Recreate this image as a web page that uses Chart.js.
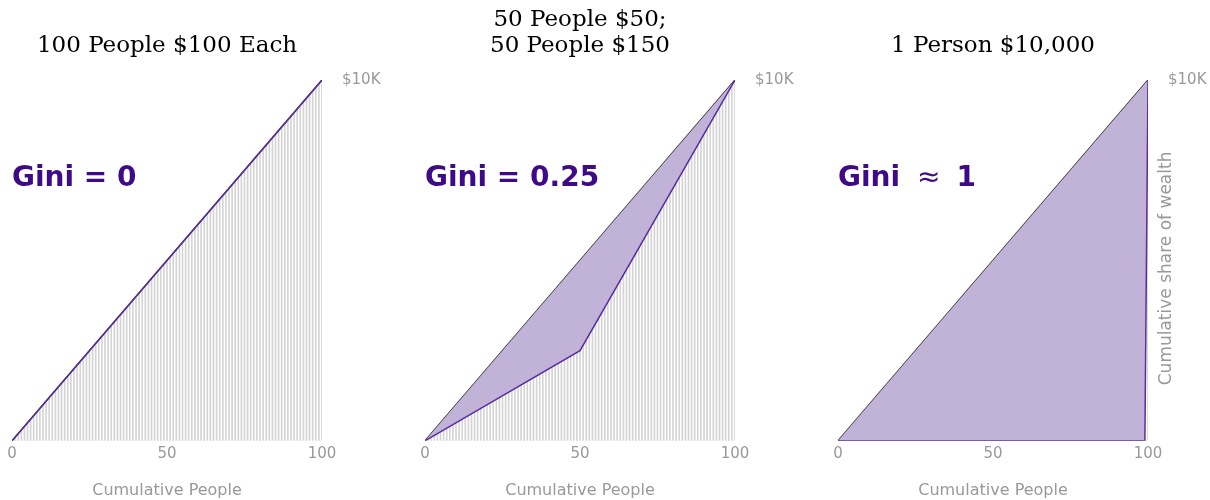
<!DOCTYPE html>
<html>
<head>
<meta charset="utf-8">
<script src="https://cdn.jsdelivr.net/npm/chart.js@4"></script>
<style>
  body { margin: 0; background: #fff; }
  .panel { position: absolute; top: 0; }
</style>
</head>
<body>
<div class="panel" style="left:0"><canvas id="c0" width="413" height="500"></canvas></div>
<div class="panel" style="left:413px"><canvas id="c1" width="413" height="500"></canvas></div>
<div class="panel" style="left:826px"><canvas id="c2" width="384" height="500"></canvas></div>
<script>
// data: each panel is a wealth distribution split into groups of people
const panelTitles = [["100 People $100 Each"], ["50 People $50;", "50 People $150"], ["1 Person $10,000"]];
const giniLabels = ["Gini = 0", "Gini = 0.25", "Gini \u2248 1"];
const groupCounts = [[100], [50, 50], [99, 1]];
const groupAmounts = [[100], [50, 150], [0, 10000]];
const peopleTicks = [0, 50, 100];
const totalPeople = 100;
const totalWealth = 10000;
const wealthTickLabel = "$10K";

const PURPLE_TEXT = "#3f0a87";
const LINE_PURPLE = "#5b2c9e";
const FILL_PURPLE = "rgba(193,178,216,1)";
const GRAY_TEXT = "#999999";

const panelText = {
  id: "panelText",
  afterDraw(chart, args, opts) {
    const { ctx, chartArea } = chart;
    ctx.save();
    // title
    ctx.fillStyle = "#000";
    ctx.font = "23px 'DejaVu Serif'";
    ctx.textAlign = "center";
    ctx.textBaseline = "middle";
    const cx = (chartArea.left + chartArea.right) / 2;
    const lines = opts.title;
    lines.forEach((t, i) => {
      ctx.fillText(t, cx, 46 - (lines.length - 1 - i) * 26);
    });
    // gini annotation; the approx sign is set lighter with wide gaps
    ctx.fillStyle = PURPLE_TEXT;
    ctx.textAlign = "left";
    const bold = "bold 28px 'DejaVu Sans'";
    const parts = opts.gini.split("\u2248");
    let x = chartArea.left;
    ctx.font = bold;
    ctx.fillText(parts[0].trim(), x, 179);
    if (parts.length > 1) {
      x += ctx.measureText(parts[0].trim()).width + 17;
      ctx.font = "28px 'DejaVu Sans'";
      ctx.fillText("\u2248", x, 179);
      x += ctx.measureText("\u2248").width + 16;
      ctx.font = bold;
      ctx.fillText(parts[1].trim(), x, 179);
    }
    // y title (only last panel)
    if (opts.yTitle) {
      ctx.translate(chartArea.right + 19, (chartArea.top + chartArea.bottom) / 2 + 8);
      ctx.rotate(-Math.PI / 2);
      ctx.fillStyle = GRAY_TEXT;
      ctx.font = "17px 'DejaVu Sans'";
      ctx.textAlign = "center";
      ctx.fillText(opts.yTitle, 0, 0);
    }
    ctx.restore();
  }
};

function drawPanel(idx) {
  const canvas = document.getElementById("c" + idx);
  const counts = groupCounts[idx];
  const amounts = groupAmounts[idx];

  // cumulative wealth per person and at group edges
  const bars = [];
  const lorenz = [{ x: 0, y: 0 }];
  let person = 0;
  let cum = 0;
  counts.forEach((n, g) => {
    for (let k = 0; k < n; k++) {
      person += 1;
      cum += amounts[g];
      bars.push({ x: person, y: cum });
    }
    lorenz.push({ x: person, y: cum });
  });

  const rightWidth = canvas.width - 12 - 310;

  new Chart(canvas, {
    type: "line",
    data: {
      datasets: [
        {
          type: "bar",
          data: bars,
          backgroundColor: "#d4d4d4",
          barThickness: 1,
          borderWidth: 0,
          order: 3
        },
        {
          data: [{ x: 0, y: 0 }, { x: totalPeople, y: totalWealth }],
          borderColor: "#2a2a2a",
          borderWidth: 1.4,
          pointRadius: 0,
          fill: false,
          order: 2
        },
        {
          data: lorenz,
          borderColor: LINE_PURPLE,
          borderWidth: 1.5,
          pointRadius: 0,
          tension: 0,
          fill: { target: 1 },
          backgroundColor: FILL_PURPLE,
          order: 1
        }
      ]
    },
    options: {
      responsive: false,
      animation: false,
      layout: { padding: { left: 12, top: 80, right: 0, bottom: 0 } },
      plugins: {
        legend: { display: false },
        tooltip: { enabled: false },
        panelText: {
          title: panelTitles[idx],
          gini: giniLabels[idx],
          yTitle: idx === 2 ? "Cumulative share of wealth" : null
        }
      },
      scales: {
        x: {
          type: "linear",
          min: 0,
          max: totalPeople,
          offset: false,
          grid: { display: false, drawTicks: false },
          border: { display: false },
          afterBuildTicks: (s) => { s.ticks = peopleTicks.map((v) => ({ value: v })); },
          ticks: { color: GRAY_TEXT, font: { size: 15, family: "DejaVu Sans" }, padding: 4, maxRotation: 0 },
          title: {
            display: true,
            text: "Cumulative People",
            color: GRAY_TEXT,
            font: { size: 16, family: "DejaVu Sans" },
            padding: { top: 14, bottom: 0 }
          }
        },
        y: {
          position: "right",
          min: 0,
          max: totalWealth,
          grid: { display: false, drawTicks: false },
          border: { display: false },
          afterBuildTicks: (s) => { s.ticks = [{ value: totalWealth }]; },
          afterFit: (s) => { s.width = rightWidth; },
          ticks: {
            color: GRAY_TEXT,
            font: { size: 15, family: "DejaVu Sans" },
            padding: 20,
            callback: () => wealthTickLabel
          }
        }
      }
    },
    plugins: [panelText]
  });
}

[0, 1, 2].forEach(drawPanel);
</script>
</body>
</html>
